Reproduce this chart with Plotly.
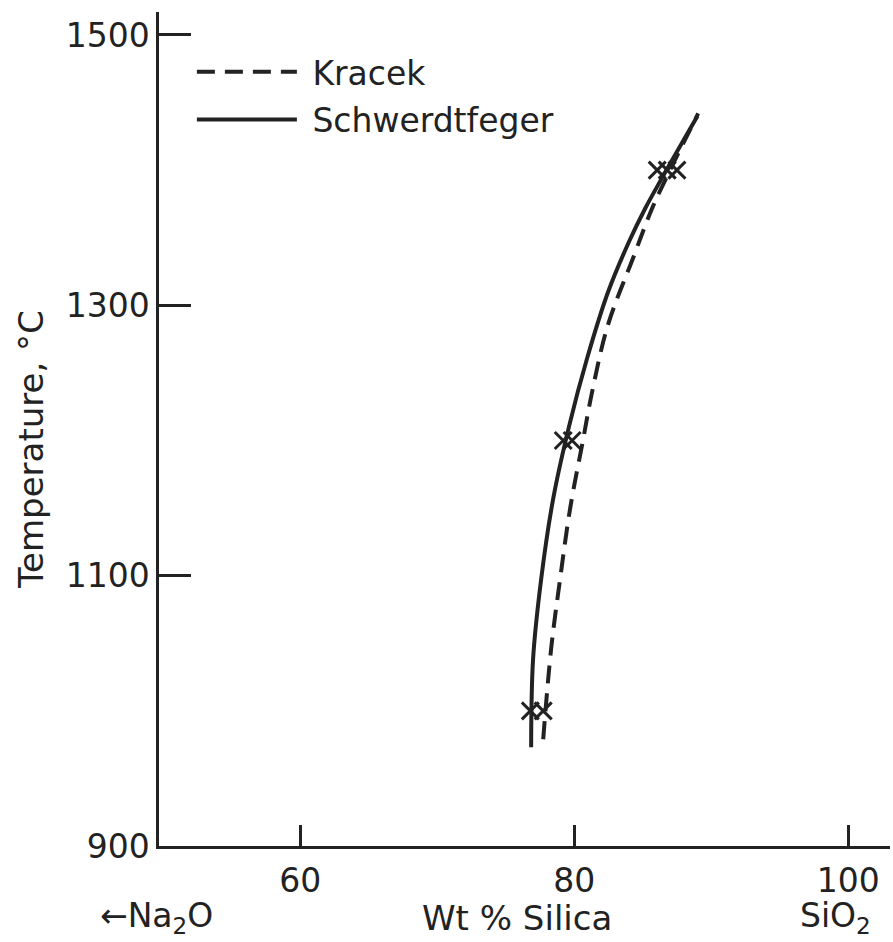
import plotly.graph_objects as go

# ---- data ----
schw_T = [973, 1038, 1098, 1157, 1211, 1261, 1310, 1347, 1372, 1394, 1440]
schw_x = [76.86, 77.0, 77.6, 78.47, 79.64, 80.95, 82.48, 84.0, 85.2, 86.4, 89.0]

kracek_T = [979, 1046, 1098, 1150, 1201, 1236, 1285, 1335, 1372, 1400, 1442]
kracek_x = [77.74, 78.32, 78.98, 79.71, 80.66, 81.31, 82.45, 84.3, 85.7, 87.0, 89.05]

pts_x = [76.8, 77.74, 79.2, 79.85, 86.06, 86.79, 87.5]
pts_T = [1000, 1000, 1200, 1200, 1400, 1400, 1400]

x_ticks = [60, 80, 100]
y_ticks = [900, 1100, 1300, 1500]

INK = "#222222"
FONT = "DejaVu Sans"

fig = go.Figure()
fig.add_trace(go.Scatter(x=kracek_x, y=kracek_T, mode="lines", name="\u00a0Kracek",
                         line=dict(color=INK, width=4, dash="18px,10px", shape="spline"),
                         legendgroup="a"))
fig.add_trace(go.Scatter(x=schw_x, y=schw_T, mode="lines", name="\u00a0Schwerdtfeger",
                         line=dict(color=INK, width=4, shape="spline"),
                         legendgroup="b"))
fig.add_trace(go.Scatter(x=pts_x, y=pts_T, mode="markers", showlegend=False,
                         marker=dict(symbol="x-thin", size=17,
                                     line=dict(color=INK, width=3))))

fig.update_layout(
    width=893, height=942,
    margin=dict(l=159, r=3, t=12, b=96),
    paper_bgcolor="white", plot_bgcolor="white",
    font=dict(family=FONT, color=INK, size=33),
    showlegend=True,
    legend=dict(x=0.045, y=0.962, xanchor="left", yanchor="top",
                bgcolor="rgba(0,0,0,0)", font=dict(size=33, family=FONT, color=INK),
                itemwidth=100, tracegroupgap=2),
    xaxis=dict(range=[49.7, 103.05], tickvals=x_ticks, ticks="inside", ticklen=21,
               tickwidth=2.5, tickcolor=INK, showline=True, linewidth=2.5, linecolor=INK,
               showgrid=False, zeroline=False, tickfont=dict(size=33, family=FONT, color=INK),
               ticklabelstandoff=4),
    yaxis=dict(range=[900, 1517], tickvals=y_ticks, ticks="inside", ticklen=32,
               tickwidth=2.5, tickcolor=INK, showline=True, linewidth=2.5, linecolor=INK,
               showgrid=False, zeroline=False, tickfont=dict(size=33, family=FONT, color=INK)),
)

fig.add_annotation(text="Wt % Silica", xref="paper", yref="paper", x=0.49, y=-0.086,
                   xanchor="center", yanchor="middle", showarrow=False,
                   font=dict(size=34, family=FONT, color=INK))
fig.add_annotation(text="\u2190Na<sub>2</sub>O", xref="paper", yref="paper", x=-0.003, y=-0.086,
                   xanchor="center", yanchor="middle", showarrow=False,
                   font=dict(size=33, family=FONT, color=INK))
fig.add_annotation(text="SiO<sub>2</sub>", xref="paper", yref="paper", x=0.925, y=-0.086,
                   xanchor="center", yanchor="middle", showarrow=False,
                   font=dict(size=33, family=FONT, color=INK))
fig.add_annotation(text="Temperature, \u00b0C", xref="paper", yref="paper", x=-0.175, y=0.475,
                   xanchor="center", yanchor="middle", showarrow=False, textangle=-90,
                   font=dict(size=34, family=FONT, color=INK))

fig.write_html("out.html")
